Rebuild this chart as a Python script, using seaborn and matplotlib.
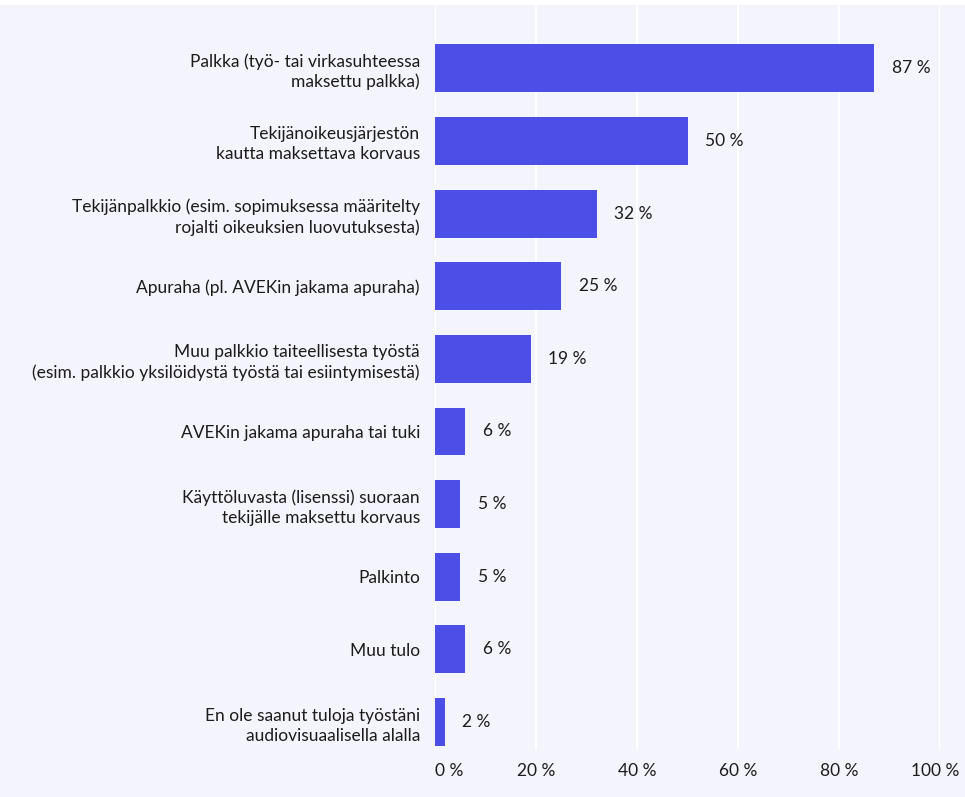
import matplotlib
matplotlib.use("Agg")
import matplotlib.pyplot as plt
import matplotlib.transforms as mtransforms
import seaborn as sns
import pandas as pd
from matplotlib.patches import Rectangle

categories = [
    "Palkka (työ- tai virkasuhteessa\nmaksettu palkka)",
    "Tekijänoikeusjärjestön\nkautta maksettava korvaus",
    "Tekijänpalkkio (esim. sopimuksessa määritelty\nrojalti oikeuksien luovutuksesta)",
    "Apuraha (pl. AVEKin jakama apuraha)",
    "Muu palkkio taiteellisesta työstä\n(esim. palkkio yksilöidystä työstä tai esiintymisestä)",
    "AVEKin jakama apuraha tai tuki",
    "Käyttöluvasta (lisenssi) suoraan\ntekijälle maksettu korvaus",
    "Palkinto",
    "Muu tulo",
    "En ole saanut tuloja työstäni\naudiovisuaalisella alalla",
]
values = [87, 50, 32, 25, 19, 6, 5, 5, 6, 2]
xticks = [0, 20, 40, 60, 80, 100]
xtick_labels = ["0 %", "20 %", "40 %", "60 %", "80 %", "100 %"]

BG = "#F4F4FC"
BAR = "#4B4EE7"
TXT = "#1c1c1c"
FS = 12.5

sns.set_style("white")
plt.rcParams["font.family"] = ["Lato", "DejaVu Sans"]

df = pd.DataFrame({"cat": categories, "val": values})

fig = plt.figure(figsize=(9.65, 7.97), dpi=100, facecolor=BG)
fig.patches.append(Rectangle((0, 1 - 5 / 797), 1, 5 / 797, transform=fig.transFigure,
                             facecolor="white", edgecolor="none", zorder=0))
ax = fig.add_axes([435 / 965, 1 - 749 / 797, (940 - 435) / 965, (749 - 5) / 797])
ax.set_facecolor(BG)

sns.barplot(data=df, y="cat", x="val", orient="h", color=BAR, width=0.66,
            saturation=1, ax=ax, zorder=3, linewidth=0)

ax.set_xlim(0, 100)
ax.set_ylim(9.37, -0.87)
ax.set_xticks(xticks)
ax.set_xticklabels(xtick_labels, fontsize=FS, color=TXT)
ax.tick_params(axis="y", length=0, pad=10.8, labelsize=FS, labelcolor=TXT)
ax.tick_params(axis="x", length=0, pad=10)
for lab in ax.get_yticklabels():
    lab.set_horizontalalignment("right")
    lab.set_multialignment("right")
    lab.set_linespacing(1.3)
xl = ax.get_xticklabels()
xl[0].set_horizontalalignment("left")
xl[-1].set_transform(xl[-1].get_transform() +
                     mtransforms.ScaledTranslation(-5 / 100, 0, fig.dpi_scale_trans))
ax.set_xlabel("")
ax.set_ylabel("")
ax.grid(axis="x", color="white", linewidth=1.5, zorder=0)
ax.set_axisbelow(True)
for s in ax.spines.values():
    s.set_visible(False)

for i, v in enumerate(values):
    ax.annotate(f"{v} %", xy=(v, i), xytext=(12.5, 0), textcoords="offset points",
                ha="left", va="center", fontsize=FS, color=TXT)

fig.savefig("out.png", dpi=100, facecolor=BG)
